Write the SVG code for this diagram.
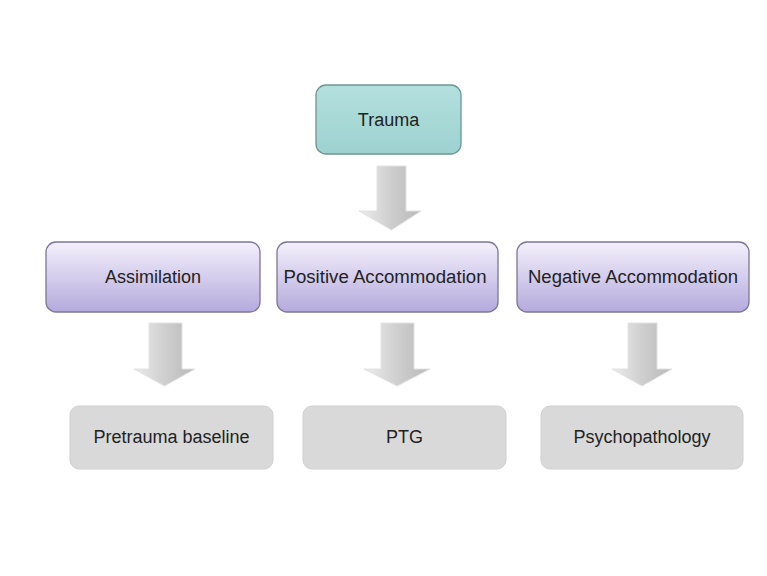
<svg xmlns="http://www.w3.org/2000/svg" width="767" height="576" viewBox="0 0 767 576">
<defs>
<linearGradient id="gTeal" x1="0" y1="0" x2="0" y2="1">
<stop offset="0" stop-color="#b3e0de"/>
<stop offset="1" stop-color="#9dd2d0"/>
</linearGradient>
<linearGradient id="gPurple" x1="0" y1="0" x2="0" y2="1">
<stop offset="0" stop-color="#f3f0fb"/>
<stop offset="1" stop-color="#b5aadd"/>
</linearGradient>
<linearGradient id="gArrow" x1="0" y1="0" x2="1" y2="0">
<stop offset="0" stop-color="#ececec"/>
<stop offset="0.5" stop-color="#cfcfcf"/>
<stop offset="1" stop-color="#b8b8b8"/>
</linearGradient>
</defs>
<style>
.lbl{font-family:"Liberation Sans",Arial,sans-serif;font-size:18px;fill:#222;text-anchor:middle}
.teal{fill:url(#gTeal);stroke:#6d9594;stroke-width:1.3}
.purple{fill:url(#gPurple);stroke:#7d7696;stroke-width:1.3}
.grey{fill:#d9d9d9;stroke:#cfcfcf;stroke-width:1}
.arrow{fill:url(#gArrow);stroke:#e2e2e2;stroke-width:1}
</style>
<rect width="767" height="576" fill="#ffffff"/>
<g id="connectors">
<path class="arrow" d="M377,166 H406 V211 H421 L391.5,230 L359,211 H377 Z"/>
<path class="arrow" d="M149,323 H182 V369 H195 L164.5,386 L134,369 H149 Z"/>
<path class="arrow" d="M381,323 H414 V369 H430 L397,386 L364,369 H381 Z"/>
<path class="arrow" d="M628,323 H657 V369 H672 L642,386 L612,369 H628 Z"/>
</g>
<g id="trauma">
<rect class="teal" x="316" y="85" width="145" height="69" rx="10"/>
<text class="lbl" x="388.5" y="126">Trauma</text>
</g>
<g id="assimilation">
<rect class="purple" x="46" y="242" width="214" height="70" rx="10"/>
<text class="lbl" x="153" y="283">Assimilation</text>
</g>
<g id="positive">
<rect class="purple" x="277" y="242" width="221" height="70" rx="10"/>
<text class="lbl" x="385" y="283" textLength="203" lengthAdjust="spacingAndGlyphs">Positive Accommodation</text>
</g>
<g id="negative">
<rect class="purple" x="517" y="242" width="232" height="70" rx="10"/>
<text class="lbl" x="633" y="283" textLength="210" lengthAdjust="spacingAndGlyphs">Negative Accommodation</text>
</g>
<g id="pretrauma">
<rect class="grey" x="70" y="406" width="203" height="63" rx="9"/>
<text class="lbl" x="171.5" y="443">Pretrauma baseline</text>
</g>
<g id="ptg">
<rect class="grey" x="303" y="406" width="203" height="63" rx="9"/>
<text class="lbl" x="404.5" y="443">PTG</text>
</g>
<g id="psychopathology">
<rect class="grey" x="541" y="406" width="202" height="63" rx="9"/>
<text class="lbl" x="642" y="443">Psychopathology</text>
</g>
</svg>
